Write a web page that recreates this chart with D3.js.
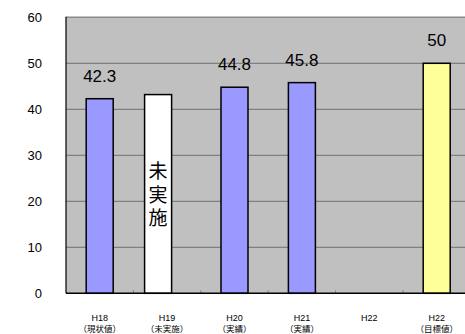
<!DOCTYPE html>
<html>
<head>
<meta charset="utf-8">
<script src="https://cdn.jsdelivr.net/npm/d3@7"></script>
<style>
  body { margin: 0; background: #fff; }
  svg { display: block; font-family: "Liberation Sans", Arial, "Noto Sans CJK JP", sans-serif; }
</style>
</head>
<body>
<script>
// categories and their second label line
const categories = ["H18", "H19", "H20", "H21", "H22", "H22b"];
const catLine1 = ["H18", "H19", "H20", "H21", "H22", "H22"];
const catLine2 = ["（現状値）", "（未実施）", "（実績）", "（実績）", "", "（目標値）"];

// bar values (null = no bar)
const values = [42.3, 43.2, 44.8, 45.8, null, 50];
const valueLabels = ["42.3", "", "44.8", "45.8", "", "50"];
const barColors = ["#9999ff", "#ffffff", "#9999ff", "#9999ff", null, "#ffff99"];
const barShift = [0, -9, 0, 0, 0, 0];

const yTicks = [0, 10, 20, 30, 40, 50, 60];

let width = 465;
let height = 334;
let marginTop = 17.3;
let marginLeft = 66;
let plotBottom = 293.3;

let x = d3.scaleBand()
    .domain(categories)
    .range([marginLeft, marginLeft + 404.4])
    .padding(0);

let y = d3.scaleLinear()
    .domain([0, 60])
    .range([plotBottom, marginTop]);

let svg = d3.select("body").append("svg")
    .attr("width", width)
    .attr("height", height)
    .attr("viewBox", [0, 0, width, height]);

// plot background
svg.append("rect")
    .attr("x", marginLeft)
    .attr("y", y(60))
    .attr("width", width - marginLeft)
    .attr("height", y(0) - y(60))
    .attr("fill", "#c0c0c0");

// gridlines
svg.append("g")
    .selectAll("line")
    .data(yTicks.filter(d => d > 0))
    .join("line")
    .attr("x1", marginLeft)
    .attr("x2", width)
    .attr("y1", d => y(d))
    .attr("y2", d => y(d))
    .attr("stroke", d => d === 60 ? "#8a8a8a" : "#707070")
    .attr("stroke-width", d => d === 60 ? 1.5 : 1);

// left axis line
svg.append("line")
    .attr("x1", marginLeft).attr("x2", marginLeft)
    .attr("y1", y(60) - 0.5).attr("y2", y(0))
    .attr("stroke", "#000")
    .attr("stroke-width", 1.2);

// y tick labels
svg.append("g")
    .selectAll("text")
    .data(yTicks)
    .join("text")
    .attr("x", 42)
    .attr("y", d => y(d))
    .attr("dy", "0.36em")
    .attr("text-anchor", "end")
    .attr("font-size", "13px")
    .attr("fill", "#000")
    .text(d => d);

// x tick marks between categories
svg.append("g")
    .selectAll("line")
    .data(categories.slice(1))
    .join("line")
    .attr("x1", d => x(d))
    .attr("x2", d => x(d))
    .attr("y1", y(0) - 3)
    .attr("y2", y(0))
    .attr("stroke", "#808080");

let barW = 27;
let bars = categories.map((c, i) => ({ c, v: values[i], color: barColors[i], shift: barShift[i], label: valueLabels[i] }))
    .filter(d => d.v != null);

// bars
svg.append("g")
    .selectAll("rect")
    .data(bars)
    .join("rect")
    .attr("x", d => x(d.c) + x.bandwidth() / 2 - barW / 2 + d.shift)
    .attr("y", d => y(d.v))
    .attr("width", barW)
    .attr("height", d => y(0) - y(d.v))
    .attr("fill", d => d.color)
    .attr("stroke", "#000")
    .attr("stroke-width", 1.5);

// x axis line
svg.append("line")
    .attr("x1", marginLeft).attr("x2", width)
    .attr("y1", y(0)).attr("y2", y(0))
    .attr("stroke", "#000")
    .attr("stroke-width", 1.5);

// value labels
svg.append("g")
    .selectAll("text")
    .data(bars.filter(d => d.label))
    .join("text")
    .attr("x", d => x(d.c) + x.bandwidth() / 2 + d.shift)
    .attr("y", d => y(d.v) - 17)
    .attr("text-anchor", "middle")
    .attr("font-size", "17px")
    .attr("fill", "#000")
    .text(d => d.label);

// vertical text inside the white bar
svg.append("text")
    .attr("x", x("H19") + x.bandwidth() / 2 + barShift[1])
    .attr("y", 197)
    .attr("text-anchor", "middle")
    .style("writing-mode", "vertical-rl")
    .attr("letter-spacing", "4.5px")
    .attr("font-family", "'Noto Sans CJK JP', sans-serif")
    .attr("font-size", "19px")
    .attr("fill", "#000")
    .text("未実施");

// x labels
let xl = svg.append("g")
    .selectAll("g")
    .data(categories)
    .join("g")
    .attr("transform", d => `translate(${x(d) + x.bandwidth() / 2},0)`);

xl.append("text")
    .attr("y", 320.5)
    .attr("text-anchor", "middle")
    .attr("font-size", "9px")
    .attr("fill", "#000")
    .text((d, i) => catLine1[i]);

xl.append("text")
    .attr("y", 331.5)
    .attr("text-anchor", "middle")
    .attr("font-size", "8.5px")
    .attr("font-family", "'Noto Sans CJK JP', sans-serif")
    .attr("fill", "#000")
    .text((d, i) => catLine2[i]);
</script>
</body>
</html>
